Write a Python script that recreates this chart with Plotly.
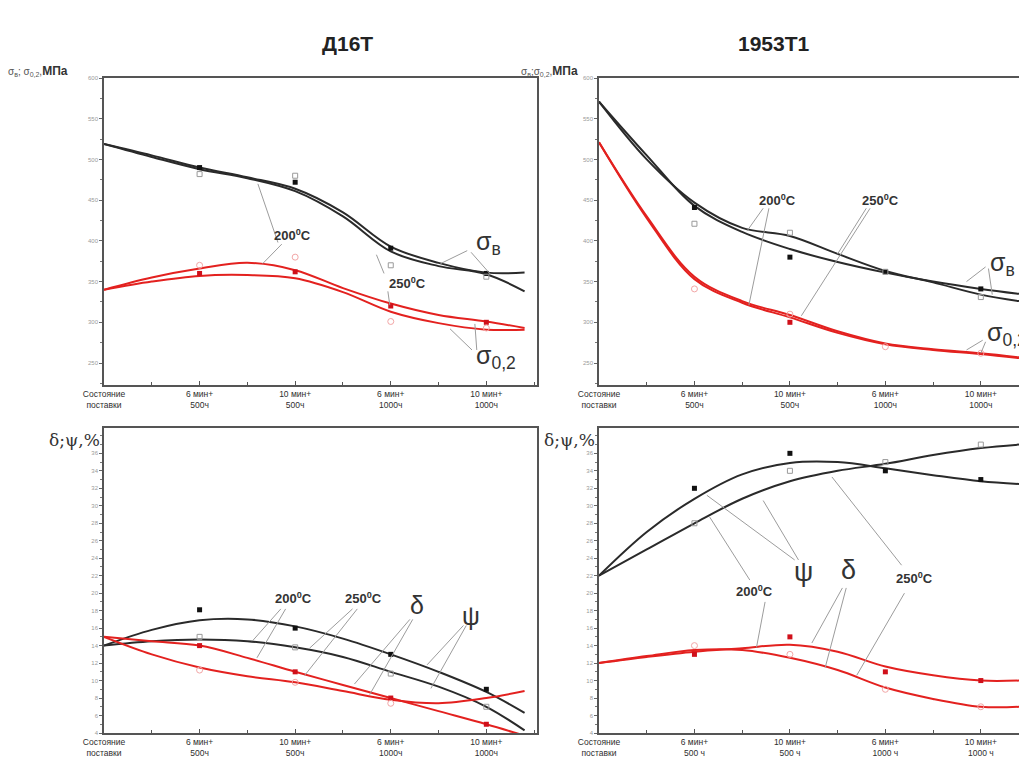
import plotly.graph_objects as go

# ---------------- data ----------------
X_GRID = [0, 0.5, 1, 1.5, 2, 2.5, 3, 3.5, 4, 4.4]
X_PTS = [1, 2, 3, 4]
CATS_A = ["Состояние<br>поставки", "6 мин+<br>500ч", "10 мин+<br>500ч", "6 мин+<br>1000ч", "10 мин+<br>1000ч"]
CATS_B = ["Состояние<br>поставки", "6 мин+<br>500 ч", "10 мин+<br>500 ч", "6 мин+<br>1000 ч", "10 мин+<br>1000 ч"]
TITLES = ["Д16Т", "1953Т1"]

# Д16Т, strength (MPa)
d16_sb_1 = [519, 505, 490, 478, 464, 435, 393, 373, 361, 361]
d16_sb_2 = [519, 503, 488, 477, 461, 430, 387, 369, 359, 338]
d16_s02_1 = [340, 355, 366, 373, 364, 342, 323, 309, 301, 293]
d16_s02_2 = [340, 350, 357, 358, 354, 337, 313, 299, 291, 291]
d16_sb_full = [490, 472, 391, 360]
d16_sb_open = [482, 480, 370, 356]
d16_s02_full = [360, 362, 320, 300]
d16_s02_open = [370, 380, 301, 293]

# 1953Т1, strength (MPa)
t1_sb_1 = [571, 500, 447, 416, 406, 384, 363, 349, 334, 326]
t1_sb_2 = [571, 505, 443, 411, 390, 374, 361, 350, 341, 335]
t1_s02_1 = [521, 430, 356, 326, 309, 289, 274, 267, 262, 257]
t1_s02_2 = [521, 428, 353, 324, 306, 287, 273, 266, 261, 256]
t1_sb_full = [441, 380, 362, 341]
t1_sb_open = [421, 410, 362, 331]
t1_s02_full = [None, 300, None, None]
t1_s02_open = [341, 310, 270, 262]

# Д16Т, plasticity (%)
d16_psi_1 = [14, 15.8, 16.9, 17.0, 16.2, 14.8, 13.0, 11.0, 8.7, 6.3]
d16_psi_2 = [14, 14.5, 14.7, 14.5, 13.8, 12.7, 11.0, 9.3, 7.0, 4.3]
d16_del_1 = [15, 14.5, 14.0, 12.6, 11.0, 9.5, 8.0, 6.5, 5.0, 3.7]
d16_del_2 = [15, 13.0, 11.5, 10.5, 9.8, 8.8, 7.8, 7.4, 8.0, 8.8]
d16_psi_full = [18.1, 16.0, 13.0, 9.0]
d16_psi_open = [15.0, 13.8, 10.8, 7.0]
d16_del_full = [14.0, 11.0, 8.0, 5.0]
d16_del_open = [11.2, 9.8, 7.4, None]

# 1953Т1, plasticity (%)
t1_psi_1 = [22, 27, 30.8, 33.6, 34.9, 35.0, 34.3, 33.5, 32.8, 32.5]
t1_psi_2 = [22, 25, 28, 30.8, 32.8, 34.0, 34.8, 35.8, 36.6, 37.0]
t1_del_1 = [12, 12.7, 13.3, 13.7, 14.1, 13.3, 11.6, 10.6, 10.0, 10.0]
t1_del_2 = [12, 12.8, 13.5, 13.5, 12.6, 11.2, 9.2, 7.9, 7.0, 7.0]
t1_psi_full = [32, 36, 34, 33]
t1_psi_open = [28, 34, 35, 37]
t1_del_full = [13, 15, 11, 10]
t1_del_open = [14, 13, 9, 7]

# ---------------- styling ----------------
BLACK = "#2a2a2a"
RED = "#e3211f"
FONT = "Liberation Sans, Arial, sans-serif"

fig = go.Figure()


def curves(xa, ya, black1, black2, red1, red2, bfull, bopen, rfull, ropen):
    for c in (black1, black2):
        fig.add_trace(go.Scatter(x=X_GRID, y=c, mode="lines", line=dict(color=BLACK, width=2, shape="spline", smoothing=1.0),
                                 xaxis=xa, yaxis=ya, showlegend=False, hoverinfo="skip", cliponaxis=True))
    for c in (red1, red2):
        fig.add_trace(go.Scatter(x=X_GRID, y=c, mode="lines", line=dict(color=RED, width=2, shape="spline", smoothing=1.0),
                                 xaxis=xa, yaxis=ya, showlegend=False, hoverinfo="skip", cliponaxis=True))
    fig.add_trace(go.Scatter(x=X_PTS, y=bfull, mode="markers", marker=dict(symbol="square", size=5, color="#111"),
                             xaxis=xa, yaxis=ya, showlegend=False))
    fig.add_trace(go.Scatter(x=X_PTS, y=bopen, mode="markers",
                             marker=dict(symbol="square-open", size=5, color="#9a9a9a", line=dict(width=1)),
                             xaxis=xa, yaxis=ya, showlegend=False))
    fig.add_trace(go.Scatter(x=X_PTS, y=rfull, mode="markers", marker=dict(symbol="square", size=5, color="#d0101a"),
                             xaxis=xa, yaxis=ya, showlegend=False))
    fig.add_trace(go.Scatter(x=X_PTS, y=ropen, mode="markers",
                             marker=dict(symbol="circle-open", size=6, color="#f2a6a6", line=dict(width=1)),
                             xaxis=xa, yaxis=ya, showlegend=False))


curves("x", "y", d16_sb_1, d16_sb_2, d16_s02_1, d16_s02_2, d16_sb_full, d16_sb_open, d16_s02_full, d16_s02_open)
curves("x2", "y2", t1_sb_1, t1_sb_2, t1_s02_1, t1_s02_2, t1_sb_full, t1_sb_open, t1_s02_full, t1_s02_open)
curves("x3", "y3", d16_psi_1, d16_psi_2, d16_del_1, d16_del_2, d16_psi_full, d16_psi_open, d16_del_full, d16_del_open)
curves("x4", "y4", t1_psi_1, t1_psi_2, t1_del_1, t1_del_2, t1_psi_full, t1_psi_open, t1_del_full, t1_del_open)

W, H = 1019, 773
LEFT_DOM = [104 / W, 537 / W]
RIGHT_DOM = [599 / W, 1.0]
TOP_DOM = [1 - 385 / H, 1 - 78 / H]
BOT_DOM = [1 - 733 / H, 1 - 428 / H]


def xax(domain, anchor, rng, text, mirror=True):
    return dict(domain=domain, anchor=anchor, range=rng, tickvals=[0, 1, 2, 3, 4], ticktext=text,
                ticks="inside", ticklen=4, tickcolor="#555", showline=True, linecolor="#555", linewidth=1.5,
                mirror=mirror, showgrid=False, zeroline=False, automargin=False,
                tickfont=dict(size=8.5, color="#2e2e2e", family=FONT),
                minor=dict(ticks="inside", ticklen=3, dtick=0.5, tick0=0, tickcolor="#555"))


def yax(domain, anchor, rng, vals, minor_dt, mirror=True):
    return dict(domain=domain, anchor=anchor, range=rng, tickvals=vals, ticks="outside", ticklen=3,
                tickcolor="#666", showline=True, linecolor="#555", linewidth=1.5, mirror=mirror,
                showgrid=False, zeroline=False, automargin=False,
                tickfont=dict(size=6, color="#9a9a9a", family=FONT),
                minor=dict(ticks="outside", ticklen=2, dtick=minor_dt, tickcolor="#777"))


TOP_VALS = [250, 300, 350, 400, 450, 500, 550, 600]
BOT_VALS = list(range(4, 37, 2))

fig.update_layout(
    width=W, height=H, margin=dict(l=0, r=0, t=0, b=0, autoexpand=False),
    paper_bgcolor="white", plot_bgcolor="white", showlegend=False,
    font=dict(family=FONT),
    xaxis=xax(LEFT_DOM, "y", [0, 4.53], CATS_A),
    yaxis=yax(TOP_DOM, "x", [223, 600], TOP_VALS, 25),
    xaxis2=xax(RIGHT_DOM, "y2", [0, 4.4], CATS_A),
    yaxis2=yax(TOP_DOM, "x2", [223, 600], TOP_VALS, 25, mirror=False),
    xaxis3=xax(LEFT_DOM, "y3", [0, 4.53], CATS_A),
    yaxis3=yax(BOT_DOM, "x3", [4, 38.9], BOT_VALS, 1),
    xaxis4=xax(RIGHT_DOM, "y4", [0, 4.4], CATS_B),
    yaxis4=yax(BOT_DOM, "x4", [4, 38.9], BOT_VALS, 1, mirror=False),
)

ann = []
shapes = []


def label(xr, yr, x, y, text, size=13, bold=True):
    t = f"<b>{text}</b>" if bold else text
    ann.append(dict(xref=xr, yref=yr, x=x, y=y, text=t, showarrow=False,
                    font=dict(size=size, color="#333", family=FONT)))


def leader(xr, yr, x0, y0, x1, y1):
    shapes.append(dict(type="line", xref=xr, yref=yr, x0=x0, y0=y0, x1=x1, y1=y1,
                       line=dict(color="#9c9c9c", width=1)))


T200 = "200<sup>0</sup>C"
T250 = "250<sup>0</sup>C"

# top-left
label("x", "y", 1.97, 407, T200)
leader("x", "y", 1.82, 398, 1.61, 470)
leader("x", "y", 1.86, 396, 1.66, 372)
label("x", "y", 3.17, 348, T250)
leader("x", "y", 2.93, 360, 2.85, 383)
leader("x", "y", 2.97, 338, 2.99, 321)
label("x", "y", 4.02, 397, "σ<sub>в</sub>", size=25, bold=False)
leader("x", "y", 3.8, 388, 3.52, 372)
leader("x", "y", 3.84, 386, 4.05, 358)
label("x", "y", 4.1, 258, "σ<sub>0,2</sub>", size=25, bold=False)
leader("x", "y", 3.85, 266, 3.62, 292)
leader("x", "y", 3.9, 266, 3.88, 298)

# top-right
label("x2", "y2", 1.87, 450, T200)
leader("x2", "y2", 1.72, 440, 1.55, 412)
leader("x2", "y2", 1.78, 440, 1.57, 321)
label("x2", "y2", 2.95, 450, T250)
leader("x2", "y2", 2.8, 440, 2.5, 384)
leader("x2", "y2", 2.84, 440, 2.12, 308)
ann.append(dict(xref="x2", yref="y2", x=4.08, y=372, xanchor="left", text="σ<sub>в</sub>", showarrow=False,
                font=dict(size=25, color="#333", family=FONT)))
leader("x2", "y2", 4.05, 368, 3.85, 350)
leader("x2", "y2", 4.08, 366, 4.12, 334)
ann.append(dict(xref="x2", yref="y2", x=4.04, y=286, xanchor="left", text="σ<sub>0,2</sub>", showarrow=False,
                font=dict(size=25, color="#333", family=FONT)))
leader("x2", "y2", 4.02, 278, 3.85, 266)
leader("x2", "y2", 4.05, 276, 4.0, 262)

# bottom-left
label("x3", "y3", 1.98, 19.5, T200)
leader("x3", "y3", 1.85, 18.2, 1.55, 14.5)
leader("x3", "y3", 1.9, 18.2, 1.6, 12.6)
label("x3", "y3", 2.72, 19.5, T250)
leader("x3", "y3", 2.6, 18.2, 2.15, 13.7)
leader("x3", "y3", 2.65, 18.2, 2.1, 10.6)
label("x3", "y3", 3.27, 18.6, "δ", size=25, bold=False)
leader("x3", "y3", 3.2, 17.0, 2.62, 9.6)
leader("x3", "y3", 3.23, 17.0, 2.78, 8.4)
label("x3", "y3", 3.84, 17.4, "ψ", size=25, bold=False)
leader("x3", "y3", 3.76, 16.3, 3.38, 11.8)
leader("x3", "y3", 3.79, 16.3, 3.42, 9.1)

# bottom-right
label("x4", "y4", 2.14, 22.4, "ψ", size=27, bold=False)
leader("x4", "y4", 2.05, 23.8, 1.13, 31.2)
leader("x4", "y4", 2.09, 23.8, 1.72, 30.6)
label("x4", "y4", 2.61, 22.6, "δ", size=27, bold=False)
leader("x4", "y4", 2.55, 20.6, 2.23, 14.3)
leader("x4", "y4", 2.59, 20.6, 2.37, 11.5)
label("x4", "y4", 1.63, 20.3, T200)
leader("x4", "y4", 1.58, 21.5, 1.16, 28.7)
leader("x4", "y4", 1.74, 19.0, 1.65, 13.8)
label("x4", "y4", 3.31, 21.7, T250)
leader("x4", "y4", 3.17, 23.2, 2.44, 33.3)
leader("x4", "y4", 3.2, 20.0, 2.7, 10.6)

# titles
ann.append(dict(xref="paper", yref="paper", x=320 / W, y=1 - 30 / H, text="<b>" + TITLES[0] + "</b>",
                showarrow=False, font=dict(size=21, color="#222", family=FONT)))
ann.append(dict(xref="paper", yref="paper", x=812 / W, y=1 - 30 / H, text="<b>" + TITLES[1] + "</b>",
                showarrow=False, font=dict(size=21, color="#222", family=FONT)))

# axis titles
STRENGTH_T = "<span style='font-size:10px;color:#555'>σ<sub>в</sub>; σ<sub>0,2</sub>,</span><b>МПа</b>"
STRENGTH_T2 = "<span style='font-size:10px;color:#555'>σ<sub>в</sub>;σ<sub>0,2</sub>,</span><b>МПа</b>"
ann.append(dict(xref="paper", yref="paper", x=6 / W, y=1 - 62 / H, xanchor="left", text=STRENGTH_T,
                showarrow=False, font=dict(size=12, color="#333", family=FONT)))
ann.append(dict(xref="paper", yref="paper", x=519 / W, y=1 - 62 / H, xanchor="left", text=STRENGTH_T2,
                showarrow=False, font=dict(size=12, color="#333", family=FONT)))
ann.append(dict(xref="paper", yref="paper", x=102 / W, y=1 - 440 / H, xanchor="right", text="δ;ψ,%",
                showarrow=False, font=dict(size=17, color="#333", family="DejaVu Serif, serif")))
ann.append(dict(xref="paper", yref="paper", x=597 / W, y=1 - 440 / H, xanchor="right", text="δ;ψ,%",
                showarrow=False, font=dict(size=17, color="#333", family="DejaVu Serif, serif")))

fig.update_layout(annotations=ann, shapes=shapes)
fig.write_html("out.html")
